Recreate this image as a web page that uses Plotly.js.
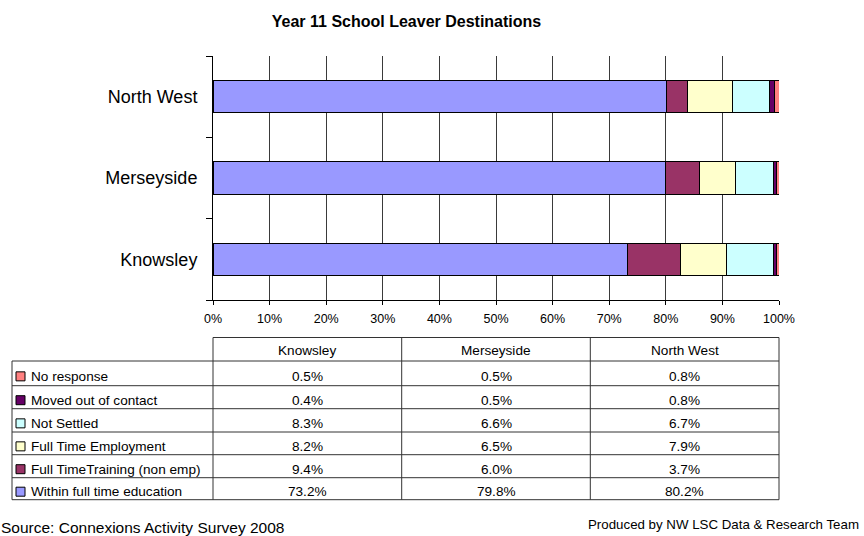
<!DOCTYPE html>
<html>
<head>
<meta charset="utf-8">
<script src="https://cdn.plot.ly/plotly-3.0.1.min.js"></script>
<style>
  html, body { margin: 0; padding: 0; background: #fff; }
  #chart { width: 864px; height: 536px; }
</style>
</head>
<body>
<div id="chart"></div>
<script>
// areas, bottom to top
const areas = ['Knowsley', 'Merseyside', 'North West'];

// table rows, top to bottom
const seriesNames = [
  'No response',
  'Moved out of contact',
  'Not Settled',
  'Full Time Employment',
  'Full TimeTraining (non emp)',
  'Within full time education',
];
const noResponse = [0.5, 0.5, 0.8];
const movedOut = [0.4, 0.5, 0.8];
const notSettled = [8.3, 6.6, 6.7];
const fullTimeEmployment = [8.2, 6.5, 7.9];
const fullTimeTraining = [9.4, 6.0, 3.7];
const fullTimeEducation = [73.2, 79.8, 80.2];

const seriesValues = [noResponse, movedOut, notSettled, fullTimeEmployment, fullTimeTraining, fullTimeEducation];
const seriesColors = ['#FF8080', '#660066', '#CCFFFF', '#FFFFCC', '#993366', '#9999FF'];

const FONT = 'Liberation Sans, Arial, sans-serif';
const TABLE_SIZE = 13.6;

// plot area in pixels: x 213..779, y 56..300
const px = (x) => (x - 213) / 566;
const py = (y) => (300 - y) / 244;

// stack order: education first (left), no response last (right)
const traces = seriesNames.map((name, i) => ({
  type: 'bar',
  orientation: 'h',
  name: name,
  y: areas,
  x: seriesValues[i],
  width: 0.4,
  marker: {color: seriesColors[i], line: {color: '#000', width: 1}},
  hoverinfo: 'name+x',
})).reverse();

// data table drawn under the plot
const shapes = [];
const annotations = [];
const line = {color: '#333', width: 1};

const rowLines = [361, 385.7, 408.7, 432, 454.7, 477.7, 499.7];
const colLines = [213, 401.7, 590.3, 779];

// header row over the data columns
shapes.push({type: 'line', xref: 'paper', yref: 'paper', x0: px(213), x1: px(779), y0: py(337.5), y1: py(337.5), line});
rowLines.forEach((y) => {
  shapes.push({type: 'line', xref: 'paper', yref: 'paper', x0: px(12), x1: px(779), y0: py(y), y1: py(y), line});
});
colLines.forEach((x) => {
  shapes.push({type: 'line', xref: 'paper', yref: 'paper', x0: px(x), x1: px(x), y0: py(337.5), y1: py(499.7), line});
});
shapes.push({type: 'line', xref: 'paper', yref: 'paper', x0: px(12), x1: px(12), y0: py(361), y1: py(499.7), line});

areas.forEach((area, c) => {
  annotations.push({
    xref: 'paper', yref: 'paper', x: (c + 0.5) / 3, y: py(350.5), text: area,
    showarrow: false, xanchor: 'center', yanchor: 'middle',
    font: {family: FONT, size: TABLE_SIZE, color: '#000'},
  });
});

seriesNames.forEach((name, r) => {
  const top = rowLines[r];
  const bottom = rowLines[r + 1];
  const mid = (top + bottom) / 2 + 3;
  shapes.push({
    type: 'rect', xref: 'paper', yref: 'paper',
    x0: px(16), x1: px(25), y0: py(mid - 4.5), y1: py(mid + 4.5),
    fillcolor: seriesColors[r], line: {color: '#000', width: 1},
  });
  annotations.push({
    xref: 'paper', yref: 'paper', x: px(29), y: py(mid), text: name,
    showarrow: false, xanchor: 'left', yanchor: 'middle',
    font: {family: FONT, size: TABLE_SIZE, color: '#000'},
  });
  seriesValues[r].forEach((v, c) => {
    annotations.push({
      xref: 'paper', yref: 'paper', x: (c + 0.5) / 3, y: py(mid), text: v.toFixed(1) + '%',
      showarrow: false, xanchor: 'center', yanchor: 'middle',
      font: {family: FONT, size: TABLE_SIZE, color: '#000'},
    });
  });
});

annotations.push({
  xref: 'paper', yref: 'paper', x: px(-1), y: py(527), text: 'Source: Connexions Activity Survey 2008',
  showarrow: false, xanchor: 'left', yanchor: 'middle',
  font: {family: FONT, size: 15.5, color: '#000'},
});
annotations.push({
  xref: 'paper', yref: 'paper', x: px(861), y: py(524), text: 'Produced by NW LSC Data &amp; Research Team',
  showarrow: false, xanchor: 'right', yanchor: 'middle',
  font: {family: FONT, size: 13.3, color: '#000'},
});

const layout = {
  width: 864,
  height: 536,
  margin: {l: 213, r: 85, t: 56, b: 236},
  paper_bgcolor: '#fff',
  plot_bgcolor: '#fff',
  barmode: 'stack',
  barnorm: 'percent',
  showlegend: false,
  font: {family: FONT, color: '#000'},
  title: {
    text: '<b>Year 11 School Leaver Destinations</b>',
    font: {family: FONT, size: 16, color: '#000'},
    xref: 'container', x: 406.5 / 864, xanchor: 'center',
    yref: 'container', y: 1 - 21 / 536, yanchor: 'middle',
  },
  xaxis: {
    range: [0, 100],
    dtick: 10,
    ticksuffix: '%',
    showgrid: true,
    gridcolor: '#3a3a3a',
    gridwidth: 1,
    zeroline: false,
    showline: true,
    linecolor: '#000',
    linewidth: 1,
    ticks: 'outside',
    ticklen: 4,
    tickcolor: '#000',
    ticklabelstandoff: 3,
    tickfont: {family: FONT, size: 12.5, color: '#000'},
    fixedrange: true,
  },
  yaxis: {
    type: 'category',
    range: [-0.5, 2.5],
    tickson: 'boundaries',
    ticks: 'outside',
    ticklen: 6,
    tickcolor: '#000',
    showline: true,
    linecolor: '#000',
    showgrid: false,
    zeroline: false,
    ticklabelstandoff: 11,
    tickfont: {family: FONT, size: 18, color: '#000'},
    fixedrange: true,
  },
  shapes,
  annotations,
};

Plotly.newPlot('chart', traces, layout, {displayModeBar: false, staticPlot: true});
</script>
</body>
</html>
